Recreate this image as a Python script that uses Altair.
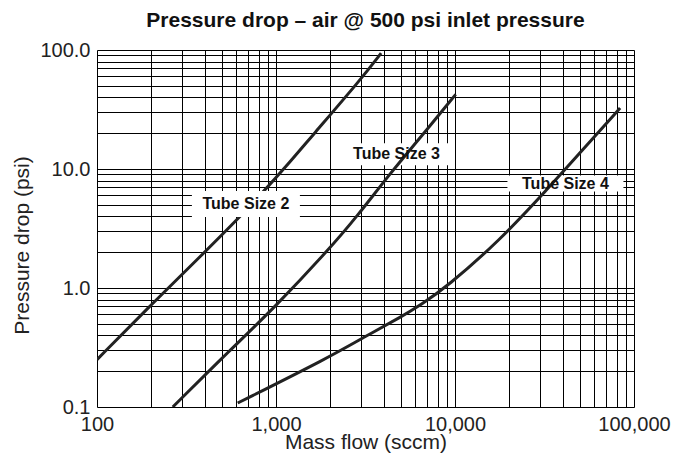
import altair as alt
import pandas as pd

# Curves (flow in sccm, pressure drop in psi)
tube2_flow = [100, 200, 393, 603, 815, 1225, 1549, 3013, 3865]
tube2_dp = [0.25, 0.72, 1.95, 3.72, 6.0, 11.9, 18.1, 57.8, 94.0]

tube3_flow = [265, 553, 986, 1959, 2825, 4335, 6240, 10090]
tube3_dp = [0.1, 0.30, 0.69, 2.08, 3.96, 9.18, 17.5, 42.4]

tube4_flow = [611, 2004, 3077, 5140, 6370, 8990, 17800, 31860, 57900, 83600]
tube4_dp = [0.108, 0.264, 0.384, 0.585, 0.715, 1.02, 2.52, 6.43, 17.5, 32.5]

labels = ["Tube Size 2", "Tube Size 3", "Tube Size 4"]
label_flow = [679, 4710, 41400]
label_dp = [5.07, 13.3, 7.54]

x_ticks = [m * 10 ** e for e in range(2, 5) for m in range(1, 10)] + [100000]
y_ticks = [round(m * 10.0 ** e, 6) for e in range(-1, 2) for m in range(1, 10)] + [100.0]

rows = []
for name, fl, dp in [("Tube Size 2", tube2_flow, tube2_dp),
                     ("Tube Size 3", tube3_flow, tube3_dp),
                     ("Tube Size 4", tube4_flow, tube4_dp)]:
    for i, (f, p) in enumerate(zip(fl, dp)):
        rows.append({"series": name, "flow": f, "dp": p, "order": i})
df = pd.DataFrame(rows)
lab = pd.DataFrame({"label": labels, "flow": label_flow, "dp": label_dp})

W, H = 537, 357
FONT = "Liberation Sans"

xscale = alt.Scale(type="log", domain=[100, 100000], nice=False)
yscale = alt.Scale(type="log", domain=[0.1, 100], nice=False)

xaxis = alt.Axis(
    values=x_ticks,
    labelExpr="abs(round(log(datum.value)/LN10) - log(datum.value)/LN10) < 1e-6 ? format(datum.value, ',') : ''",
    grid=True, gridColor="#000", gridWidth=1, gridOpacity=1,
    ticks=False, domain=False, labelPadding=7,
    labelFontSize=20, labelFont=FONT, labelColor="#222",
    title="Mass flow (sccm)", titleFontSize=21, titleFont=FONT, titleColor="#222",
    titleFontWeight="normal", titleBaseline="middle", titleY=35,
    labelOverlap=False, labelFlush=False,
)
yaxis = alt.Axis(
    values=y_ticks,
    labelExpr="abs(round(log(datum.value)/LN10) - log(datum.value)/LN10) < 1e-6 ? format(datum.value, '.1f') : ''",
    grid=True, gridColor="#000", gridWidth=1, gridOpacity=1,
    ticks=False, domain=False, labelPadding=7,
    labelFontSize=20, labelFont=FONT, labelColor="#222",
    title="Pressure drop (psi)", titleFontSize=21, titleFont=FONT, titleColor="#222",
    titleFontWeight="normal", titleBaseline="middle", titleX=-75, titleY=195,
    labelOverlap=False, labelFlush=False,
)

base = alt.Chart(df)
lines = base.mark_line(color="#222", strokeWidth=3, interpolate="basis", clip=True).encode(
    x=alt.X("flow:Q", scale=xscale, axis=xaxis),
    y=alt.Y("dp:Q", scale=yscale, axis=yaxis),
    detail="series:N",
    order="order:Q",
)

box_sizes = {"Tube Size 2": (108, 26), "Tube Size 3": (104, 22), "Tube Size 4": (116, 16)}

def box(name):
    w, h = box_sizes[name]
    return alt.Chart(lab).transform_filter(alt.datum.label == name).mark_rect(
        color="white", width=w, height=h
    ).encode(x=alt.X("flow:Q", scale=xscale), y=alt.Y("dp:Q", scale=yscale))

texts = alt.Chart(lab).mark_text(
    font=FONT, fontSize=16, fontWeight="bold", color="#111", align="center", baseline="middle"
).encode(x=alt.X("flow:Q", scale=xscale), y=alt.Y("dp:Q", scale=yscale), text="label:N")

chart = alt.layer(box("Tube Size 3"), box("Tube Size 4"), lines, box("Tube Size 2"), texts).properties(
    width=W, height=H,
    title=alt.TitleParams("Pressure drop – air @ 500 psi inlet pressure", font=FONT, fontSize=21,
                          fontWeight="bold", color="#111", anchor="middle", offset=9),
    autosize=alt.AutoSizeParams(type="none"),
    padding={"left": 89, "top": 42, "right": 38, "bottom": 52},
).configure_view(stroke="#000", strokeWidth=1.5).configure(background="white")

chart.save("out.html", embed_options={"renderer": "svg", "actions": False})
